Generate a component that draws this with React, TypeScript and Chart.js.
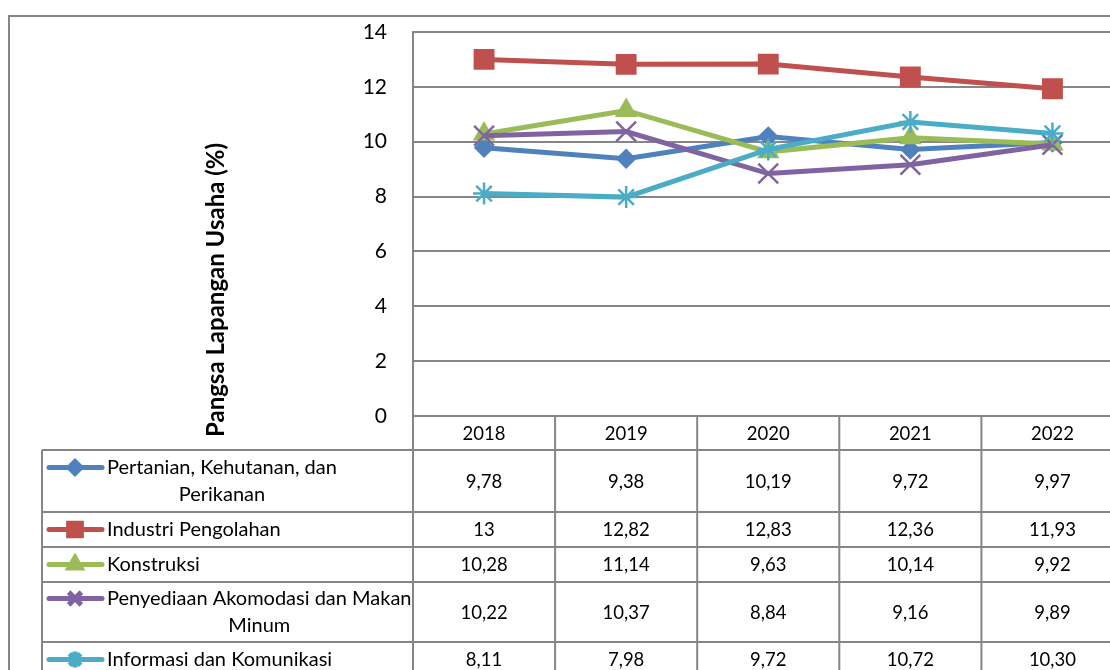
import React, { useEffect, useRef } from 'react';
import { Chart, registerables } from 'chart.js';
import { drawPoint } from 'chart.js/helpers';

Chart.register(...registerables);

// ---- data ----
const years = ['2018', '2019', '2020', '2021', '2022'];
const seriesNames: string[][] = [
  ['Pertanian, Kehutanan, dan', 'Perikanan'],
  ['Industri Pengolahan'],
  ['Konstruksi'],
  ['Penyediaan Akomodasi dan Makan', 'Minum'],
  ['Informasi dan Komunikasi'],
];
const pertanian = ['9,78', '9,38', '10,19', '9,72', '9,97'];
const industri = ['13', '12,82', '12,83', '12,36', '11,93'];
const konstruksi = ['10,28', '11,14', '9,63', '10,14', '9,92'];
const akomodasi = ['10,22', '10,37', '8,84', '9,16', '9,89'];
const informasi = ['8,11', '7,98', '9,72', '10,72', '10,30'];
const yMin = 0;
const yMax = 14;
const yStep = 2;
const yTitle = 'Pangsa Lapangan Usaha (%)';

// ---- styles ----
const seriesText = [pertanian, industri, konstruksi, akomodasi, informasi];
const colors = ['#4F81BD', '#C0504D', '#9BBB59', '#8064A2', '#4BACC6'];
const pointStyles = ['rectRot', 'rect', 'triangle', 'crossRot', 'star'];
const pointRadii = [8.5, 13, 10.5, 14, 11];
const legendRadii = [6, 9, 7, 9, 8];
const rowHeights = [62, 35, 35, 60, 35];
const headerHeight = 34;
const gridColor = '#868686';
const FONT = 'Lato, "Noto Sans", sans-serif';

const toNum = (s: string) => Number(s.replace(',', '.'));

const tablePlugin = {
  id: 'tablePlugin',
  afterDraw(chart: any) {
    const ctx: CanvasRenderingContext2D = chart.ctx;
    const area = chart.chartArea;
    const W = chart.width;
    ctx.save();
    // outer border
    ctx.strokeStyle = gridColor;
    ctx.lineWidth = 2;
    ctx.beginPath();
    ctx.moveTo(9, chart.height + 5);
    ctx.lineTo(9, 16);
    ctx.lineTo(W + 5, 16);
    ctx.stroke();

    // y title
    ctx.save();
    ctx.translate(216, 290);
    ctx.rotate(-Math.PI / 2);
    ctx.fillStyle = '#000';
    ctx.font = `bold 24px ${FONT}`;
    ctx.textAlign = 'center';
    ctx.textBaseline = 'middle';
    ctx.fillText(yTitle, 0, 0);
    ctx.restore();

    // table geometry
    const n = years.length;
    const colW = (area.right - area.left) / n;
    const top = area.bottom;
    const bodyTop = top + headerHeight;
    const rowY: number[] = [bodyTop];
    rowHeights.forEach((h) => rowY.push(rowY[rowY.length - 1] + h));
    const bottom = rowY[rowY.length - 1];
    const legendLeft = 42;

    ctx.strokeStyle = gridColor;
    ctx.lineWidth = 2;
    ctx.beginPath();
    ctx.moveTo(area.left, top);
    ctx.lineTo(W + 5, top);
    rowY.forEach((y) => {
      ctx.moveTo(legendLeft, y);
      ctx.lineTo(W + 5, y);
    });
    for (let i = 0; i <= n; i++) {
      const x = area.left + i * colW;
      ctx.moveTo(x, top);
      ctx.lineTo(x, bottom);
    }
    ctx.moveTo(legendLeft, bodyTop);
    ctx.lineTo(legendLeft, bottom);
    ctx.stroke();

    // header
    ctx.fillStyle = '#000';
    ctx.font = `18.5px ${FONT}`;
    ctx.textAlign = 'center';
    ctx.textBaseline = 'middle';
    years.forEach((yr, i) => {
      ctx.fillText(yr, area.left + (i + 0.5) * colW, top + headerHeight / 2 + 1);
    });

    // rows
    seriesNames.forEach((lines, r) => {
      const y0 = rowY[r];
      const cy = y0 + rowHeights[r] / 2;
      const lineGap = 27;
      const firstY = cy - ((lines.length - 1) * lineGap) / 2;
      // legend marker
      ctx.strokeStyle = colors[r];
      ctx.fillStyle = colors[r];
      ctx.lineWidth = 5;
      ctx.lineCap = 'round';
      ctx.beginPath();
      ctx.moveTo(49, firstY);
      ctx.lineTo(102, firstY);
      ctx.stroke();
      ctx.lineCap = 'butt';
      drawPoint(ctx, { pointStyle: pointStyles[r], radius: legendRadii[r], rotation: 0, borderWidth: 2 } as any, 75, firstY);
      // name
      ctx.fillStyle = '#000';
      ctx.font = `20px ${FONT}`;
      const maxW = Math.max(...lines.map((l) => ctx.measureText(l).width));
      const nameCx = 107 + maxW / 2;
      ctx.textAlign = 'center';
      lines.forEach((l, k) => ctx.fillText(l, nameCx, firstY + k * lineGap));
      // values
      ctx.font = `18.5px ${FONT}`;
      seriesText[r].forEach((v, i) => {
        ctx.fillText(v, area.left + (i + 0.5) * colW, cy + 1);
      });
    });
    ctx.restore();
  },
};

export default function App() {
  const ref = useRef<HTMLCanvasElement>(null);
  useEffect(() => {
    document.body.style.margin = '0';
    document.body.style.overflow = 'hidden';
    const canvas = ref.current!;
    const datasets = seriesText.map((vals, i) => ({
      label: seriesNames[i].join(' '),
      data: vals.map(toNum),
      borderColor: colors[i],
      backgroundColor: colors[i],
      pointBackgroundColor: colors[i],
      pointBorderColor: colors[i],
      pointStyle: pointStyles[i],
      pointRadius: pointRadii[i],
      pointBorderWidth: 2.5,
      borderWidth: 5,
      tension: 0,
      order: seriesText.length - i,
    }));
    const chart = new Chart(canvas, {
      type: 'line',
      data: { labels: years, datasets },
      options: {
        responsive: false,
        animation: false,
        devicePixelRatio: 1,
        layout: { padding: { left: 0, top: 32, right: 16, bottom: 254 } },
        plugins: { legend: { display: false }, tooltip: { enabled: false } },
        scales: {
          x: { type: 'category', offset: true, display: false },
          y: {
            min: yMin,
            max: yMax,
            afterFit: (scale: any) => {
              scale.width = 413;
            },
            ticks: { stepSize: yStep, color: '#000', padding: 0, font: { family: FONT, size: 21 } },
            grid: { color: gridColor, lineWidth: 2, drawTicks: true, tickLength: 26, tickColor: 'rgba(0,0,0,0)' },
            border: { display: true, color: gridColor, width: 2 },
          },
        },
      },
      plugins: [tablePlugin],
    } as any);
    return () => chart.destroy();
  }, []);
  return (
    <div style={{ width: 1110, height: 670, overflow: 'hidden', position: 'relative', background: '#fff' }}>
      <canvas ref={ref} width={1140} height={670} style={{ display: 'block' }} />
    </div>
  );
}
